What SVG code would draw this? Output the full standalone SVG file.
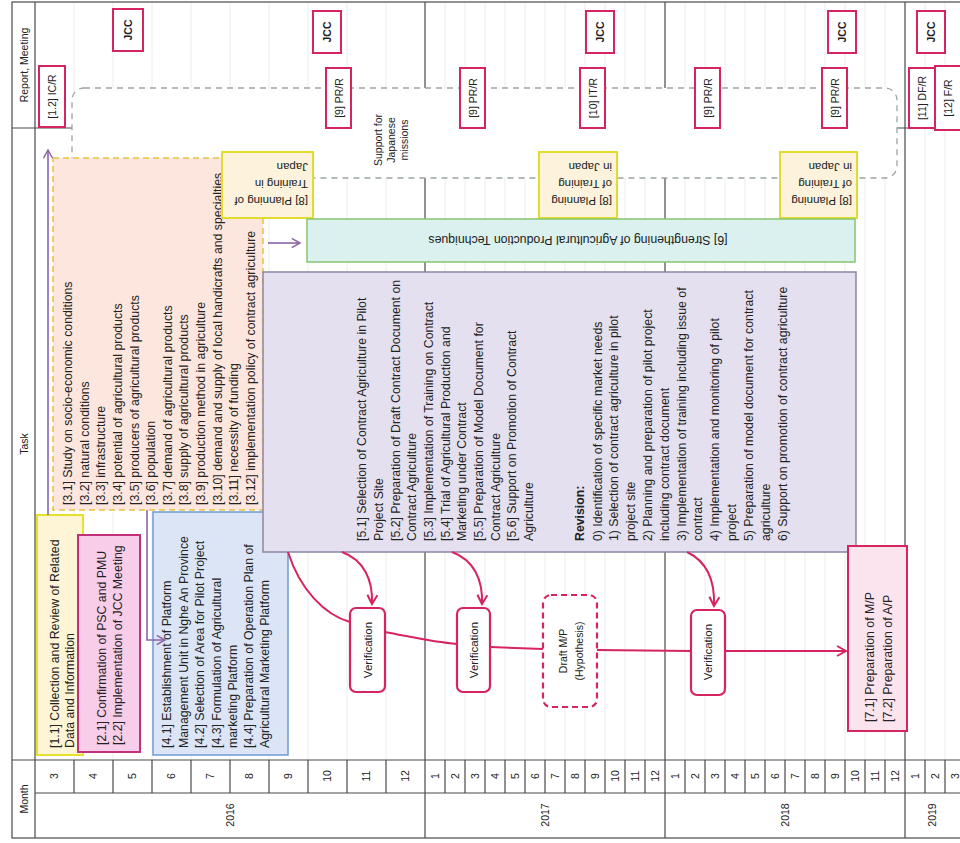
<svg xmlns="http://www.w3.org/2000/svg" width="960" height="843" viewBox="0 0 960 843">
<defs>
<style>
text{font-family:"Liberation Sans",Arial,sans-serif;fill:#222}
.t{font-size:12.3px}
.s{font-size:10.5px}
.v{font-size:11.5px}
.m{text-anchor:middle}
.b{font-weight:bold}
.grid{stroke:#4a4a4a;stroke-width:1.2;fill:none}
.faint{stroke:#ececec;stroke-width:1}
.rep{fill:#fff;stroke:#d6245f;stroke-width:2}
.ver{fill:#fff;stroke:#d6245f;stroke-width:2.2}
.red{fill:none;stroke:#d6245f;stroke-width:2}
.pur{fill:none;stroke:#8a64a8;stroke-width:1.6}
</style>
<marker id="ar" viewBox="0 0 12 12" refX="10" refY="6" markerWidth="12" markerHeight="12" markerUnits="userSpaceOnUse" orient="auto"><path d="M1,1 L10,6 L1,11" fill="none" stroke="#d6245f" stroke-width="2"/></marker>
<marker id="ap" viewBox="0 0 12 12" refX="10" refY="6" markerWidth="11" markerHeight="11" markerUnits="userSpaceOnUse" orient="auto"><path d="M1,1 L10,6 L1,11" fill="none" stroke="#8a64a8" stroke-width="1.6"/></marker>
</defs>
<rect width="960" height="843" fill="#fff"/>
<g id="grid">
<g class="faint">
<path d="M74,2V760M113,2V760M152,2V760M191,2V760M230,2V760M269,2V760M308,2V760M347,2V760M386,2V760M445,2V760M465,2V760M485,2V760M505,2V760M525,2V760M545,2V760M565,2V760M585,2V760M605,2V760M625,2V760M645,2V760M685,2V760M705,2V760M725,2V760M745,2V760M765,2V760M785,2V760M805,2V760M825,2V760M845,2V760M865,2V760M885,2V760M925,2V760M945,2V760"/>
</g>
<rect class="grid" x="12" y="2" width="970" height="836"/>
<path class="grid" d="M35,2V838M425,2V838M665,2V838M905,2V838M12,128H960M12,760H960M35,793H960"/>
<path class="grid" d="M74,760V793M113,760V793M152,760V793M191,760V793M230,760V793M269,760V793M308,760V793M347,760V793M386,760V793M445,760V793M465,760V793M485,760V793M505,760V793M525,760V793M545,760V793M565,760V793M585,760V793M605,760V793M625,760V793M645,760V793M685,760V793M705,760V793M725,760V793M745,760V793M765,760V793M785,760V793M805,760V793M825,760V793M845,760V793M865,760V793M885,760V793M925,760V793M945,760V793"/>
<g transform="rotate(-90)" class="s">
<text class="m" x="-65" y="27.5">Report, Meeting</text>
<text class="m" x="-444" y="27.5">Task</text>
<text class="m" x="-799" y="27.5">Month</text>
<text class="m" x="-776" y="58">3</text><text class="m" x="-776" y="97">4</text><text class="m" x="-776" y="136">5</text><text class="m" x="-776" y="175">6</text><text class="m" x="-776" y="214">7</text><text class="m" x="-776" y="253">8</text><text class="m" x="-776" y="292">9</text><text class="m" x="-776" y="331">10</text><text class="m" x="-776" y="370">11</text><text class="m" x="-776" y="409">12</text>
<text class="m" x="-776" y="438.5">1</text><text class="m" x="-776" y="458.5">2</text><text class="m" x="-776" y="478.5">3</text><text class="m" x="-776" y="498.5">4</text><text class="m" x="-776" y="518.5">5</text><text class="m" x="-776" y="538.5">6</text><text class="m" x="-776" y="558.5">7</text><text class="m" x="-776" y="578.5">8</text><text class="m" x="-776" y="598.5">9</text><text class="m" x="-776" y="618.5">10</text><text class="m" x="-776" y="638.5">11</text><text class="m" x="-776" y="658.5">12</text>
<text class="m" x="-776" y="678.5">1</text><text class="m" x="-776" y="698.5">2</text><text class="m" x="-776" y="718.5">3</text><text class="m" x="-776" y="738.5">4</text><text class="m" x="-776" y="758.5">5</text><text class="m" x="-776" y="778.5">6</text><text class="m" x="-776" y="798.5">7</text><text class="m" x="-776" y="818.5">8</text><text class="m" x="-776" y="838.5">9</text><text class="m" x="-776" y="858.5">10</text><text class="m" x="-776" y="878.5">11</text><text class="m" x="-776" y="898.5">12</text>
<text class="m" x="-776" y="918.5">1</text><text class="m" x="-776" y="938.5">2</text><text class="m" x="-776" y="958.5">3</text>
<text class="m" x="-815" y="233.5">2016</text>
<text class="m" x="-815" y="548.5">2017</text>
<text class="m" x="-815" y="788.5">2018</text>
<text class="m" x="-815" y="935.5">2019</text>
</g>
</g>
<g id="missions">
<rect x="72" y="88" width="825" height="90" rx="12" fill="#fff" stroke="#9aa89a" stroke-width="1.3" stroke-dasharray="6 5"/>
<g transform="rotate(-90)" class="s">
<text class="m" x="-140" y="382">Support for</text>
<text class="m" x="-140" y="395">Japanese</text>
<text class="m" x="-140" y="408">missions</text>
</g>
</g>
<g id="reports">
<rect class="rep" x="39" y="66" width="26" height="61"/>
<rect class="rep" x="113" y="9" width="30" height="42"/>
<rect class="rep" x="313" y="11" width="28" height="42"/>
<rect class="rep" x="586" y="11" width="28" height="42"/>
<rect class="rep" x="828" y="11" width="28" height="42"/>
<rect class="rep" x="917" y="11" width="28" height="42"/>
<rect class="rep" x="326" y="68" width="25" height="60"/>
<rect class="rep" x="460" y="68" width="25" height="60"/>
<rect class="rep" x="580" y="68" width="25" height="60"/>
<rect class="rep" x="695" y="68" width="25" height="60"/>
<rect class="rep" x="822" y="68" width="25" height="60"/>
<rect class="rep" x="909" y="68" width="26" height="60"/>
<rect class="rep" x="935" y="66" width="26" height="64"/>
<g transform="rotate(-90)" class="s">
<text class="m" x="-96.5" y="56">[1.2] IC/R</text>
<text class="m b" x="-30" y="132">JCC</text>
<text class="m b" x="-32" y="331">JCC</text>
<text class="m b" x="-32" y="604">JCC</text>
<text class="m b" x="-32" y="846">JCC</text>
<text class="m b" x="-32" y="935">JCC</text>
<text class="m" x="-98" y="342.5">[9] PR/R</text>
<text class="m" x="-98" y="476.5">[9] PR/R</text>
<text class="m" x="-98" y="596.5">[10] IT/R</text>
<text class="m" x="-98" y="711.5">[9] PR/R</text>
<text class="m" x="-98" y="838.5">[9] PR/R</text>
<text class="m" x="-98" y="926">[11] DF/R</text>
<text class="m" x="-98" y="952">[12] F/R</text>
</g>
</g>
<g id="task3">
<rect x="53" y="158" width="210" height="352" fill="#fde6dd" stroke="#e8c23c" stroke-width="1.5" stroke-dasharray="6 4"/>
<g transform="rotate(-90)" class="t">
<text x="-505" y="72">[3.1] Study on socio-economic conditions</text>
<text x="-505" y="88.5">[3.2] natural conditions</text>
<text x="-505" y="105">[3.3] infrastructure</text>
<text x="-505" y="121.5">[3.4] potential of agricultural products</text>
<text x="-505" y="138.5">[3.5] producers of agricultural products</text>
<text x="-505" y="155">[3.6] population</text>
<text x="-505" y="171.5">[3.7] demand of agricultural products</text>
<text x="-505" y="188">[3.8] supply of agricultural products</text>
<text x="-505" y="204.5">[3.9] production method in agriculture</text>
<text x="-505" y="221.5">[3.10] demand and supply of local handicrafts and specialties</text>
<text x="-505" y="238">[3.11] necessity of funding</text>
<text x="-505" y="254.5">[3.12] implementation policy of contract agriculture</text>
</g>
</g>
<g id="task8">
<rect x="222" y="152" width="91" height="66" fill="#fdf2dc" stroke="#e2dc2e" stroke-width="2"/>
<rect x="539" y="152" width="78" height="66" fill="#fdf2dc" stroke="#e2dc2e" stroke-width="2"/>
<rect x="780" y="152" width="77" height="66" fill="#fdf2dc" stroke="#e2dc2e" stroke-width="2"/>
<g transform="rotate(180)" class="v">
<text x="-308" y="-197">[8] Planning of</text>
<text x="-308" y="-180">Training in</text>
<text x="-308" y="-163">Japan</text>
<text x="-612" y="-197">[8] Planning</text>
<text x="-612" y="-180">of Training</text>
<text x="-612" y="-163">in Japan</text>
<text x="-852" y="-197">[8] Planning</text>
<text x="-852" y="-180">of Training</text>
<text x="-852" y="-163">in Japan</text>
</g>
</g>
<g id="task6">
<rect x="307" y="219" width="548" height="43" fill="#daf1ef" stroke="#86c56e" stroke-width="1.5"/>
<text class="t m" transform="rotate(180)" x="-578" y="-236">[6] Strengthening of Agricultural Production Techniques</text>
</g>
<g id="task1">
<rect x="37" y="515" width="46" height="240" fill="#fdf5d6" stroke="#e6e02a" stroke-width="2"/>
<g transform="rotate(-90)" class="t">
<text x="-748" y="59">[1.1] Collection and Review of Related</text>
<text x="-748" y="74">Data and Information</text>
</g>
</g>
<g id="task2">
<rect x="78" y="535" width="62" height="217" fill="#f7cdea" stroke="#c2307c" stroke-width="2"/>
<g transform="rotate(-90)" class="t">
<text x="-745" y="106">[2.1] Confirmation of PSC and PMU</text>
<text x="-745" y="122">[2.2] Implementation of JCC Meeting</text>
</g>
</g>
<g id="task4">
<rect x="153" y="512" width="135" height="243" fill="#dbe5f5" stroke="#6e9ad8" stroke-width="1.5"/>
<g transform="rotate(-90)" class="t">
<text x="-748" y="171">[4.1] Establishment of Platform</text>
<text x="-748" y="187.5">Management Unit in Nghe An Province</text>
<text x="-748" y="204">[4.2] Selection of Area for Pilot Project</text>
<text x="-748" y="220.5">[4.3] Formulation of Agricultural</text>
<text x="-748" y="236.5">marketing Platform</text>
<text x="-748" y="252.5">[4.4] Preparation of Operation Plan of</text>
<text x="-748" y="269">Agricultural Marketing Platform</text>
</g>
</g>
<g id="task5">
<rect x="263" y="272" width="593" height="280" fill="#e4e0ef" stroke="#8d84a6" stroke-width="1.5"/>
<g transform="rotate(-90)" class="t">
<text x="-541" y="366">[5.1] Selection of Contract Agriculture in Pilot</text>
<text x="-541" y="383">Project Site</text>
<text x="-541" y="400">[5.2] Preparation of Draft Contract Document on</text>
<text x="-541" y="416">Contract Agriculture</text>
<text x="-541" y="433">[5.3] Implementation of Training on Contract</text>
<text x="-541" y="450">[5.4] Trial of Agricultural Production and</text>
<text x="-541" y="466">Marketing under Contract</text>
<text x="-541" y="483">[5.5] Preparation of Model Document for</text>
<text x="-541" y="500">Contract Agriculture</text>
<text x="-541" y="516">[5.6] Support on Promotion of Contract</text>
<text x="-541" y="533">Agriculture</text>
<text class="b" x="-541" y="584">Revision:</text>
<text x="-541" y="602">0) Identification of specific market needs</text>
<text x="-541" y="618">1) Selection of contract agriculture  in pilot</text>
<text x="-541" y="635">project site</text>
<text x="-541" y="652">2) Planning and preparation of pilot project</text>
<text x="-541" y="669">including contract document</text>
<text x="-541" y="686">3) Implementation of training  including issue of</text>
<text x="-541" y="702">contract</text>
<text x="-541" y="719">4) Implementation and monitoring of pilot</text>
<text x="-541" y="736">project</text>
<text x="-541" y="753">5) Preparation of model document for contract</text>
<text x="-541" y="770">agriculture</text>
<text x="-541" y="787">6) Support on promotion of contract agriculture</text>
</g>
</g>
<g id="task7">
<rect x="848" y="546" width="59" height="185" fill="#fce4ee" stroke="#d6245f" stroke-width="2"/>
<g transform="rotate(-90)" class="t">
<text x="-722" y="874">[7.1] Preparation of M/P</text>
<text x="-722" y="892">[7.2] Preparation of A/P</text>
</g>
</g>
<g id="verification1">
<rect class="ver" x="350" y="608" width="35" height="84" rx="6"/>
<text class="v m" transform="rotate(-90)" x="-650" y="371.5">Verification</text>
</g>
<g id="verification2">
<rect class="ver" x="457" y="608" width="33" height="84" rx="6"/>
<text class="v m" transform="rotate(-90)" x="-650" y="477.5">Verification</text>
</g>
<g id="draft">
<rect x="543" y="595" width="54" height="112" rx="8" fill="#fff" stroke="#d6245f" stroke-width="2.2" stroke-dasharray="6 4"/>
<g transform="rotate(-90)" class="s">
<text class="m" x="-651" y="567">Draft M/P</text>
<text class="m" x="-651" y="583">(Hypothesis)</text>
</g>
</g>
<g id="verification3">
<rect class="ver" x="691" y="610" width="34" height="85" rx="6"/>
<text class="v m" transform="rotate(-90)" x="-652" y="712">Verification</text>
</g>
<g id="connectors">
<path class="pur" d="M48,515V150" marker-end="url(#ap)"/>
<path class="pur" d="M147,510V640H165" marker-end="url(#ap)" stroke="#a8568f"/>
<path class="pur" d="M268,243H300" marker-end="url(#ap)"/>
<path class="red" d="M288,552C300,590 325,615 350,622"/>
<path class="red" d="M342,552C364,560 373,580 372,604" marker-end="url(#ar)"/>
<path class="red" d="M452,552C474,560 483,580 482,604" marker-end="url(#ar)"/>
<path class="red" d="M687,552C708,562 715,582 714,606" marker-end="url(#ar)"/>
<path class="red" d="M385,632C412,637 432,642 457,644"/>
<path class="red" d="M490,647L543,649"/>
<path class="red" d="M597,650L691,651"/>
<path class="red" d="M725,651H846" marker-end="url(#ar)"/>
</g>
</svg>
